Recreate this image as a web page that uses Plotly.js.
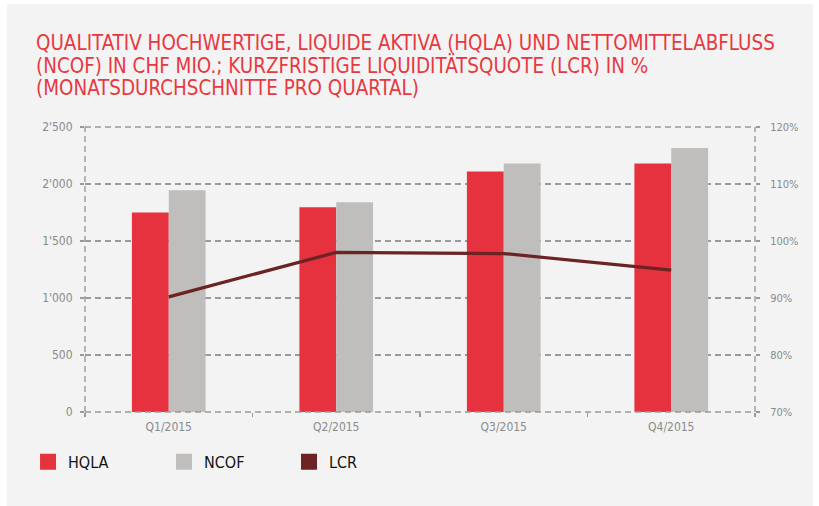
<!DOCTYPE html>
<html>
<head>
<meta charset="utf-8">
<script src="https://cdn.plot.ly/plotly-3.0.1.min.js"></script>
<style>
  html, body { margin: 0; padding: 0; background: #ffffff; }
  #chart { position: absolute; left: 7px; top: 4px; width: 806px; height: 502px; }
</style>
</head>
<body>
<div id="chart"></div>
<script>
const categories = ['Q1/2015', 'Q2/2015', 'Q3/2015', 'Q4/2015'];
const hqla = [1750, 1795, 2110, 2180];
const ncof = [1945, 1840, 2180, 2315];
const lcr = [90.2, 98.0, 97.8, 94.9];
const leftTickVals = [0, 500, 1000, 1500, 2000, 2500];
const leftTickText = ['0', '500', "1'000", "1'500", "2'000", "2'500"];
const rightTickVals = [70, 80, 90, 100, 110, 120];
const rightTickText = ['70%', '80%', '90%', '100%', '110%', '120%'];
const seriesNames = ['HQLA', 'NCOF', 'LCR'];
const titleLines = [
  'QUALITATIV HOCHWERTIGE, LIQUIDE AKTIVA (HQLA) UND NETTOMITTELABFLUSS',
  '(NCOF) IN CHF MIO.; KURZFRISTIGE LIQUIDITÄTSQUOTE (LCR) IN %',
  '(MONATSDURCHSCHNITTE PRO QUARTAL)'
];

const RED = '#e5323e', GREY = '#bfbebc', BROWN = '#6b2323';
const FONT = '"Liberation Sans Narrow", "DejaVu Sans Condensed", sans-serif';
const TICKCOL = '#8a8a8a';

const traces = [
  { type: 'bar', name: seriesNames[0], x: categories, y: hqla, marker: { color: RED }, showlegend: false, hoverinfo: 'skip' },
  { type: 'bar', name: seriesNames[1], x: categories, y: ncof, marker: { color: GREY }, showlegend: false, hoverinfo: 'skip' },
  { type: 'scatter', mode: 'lines', name: seriesNames[2], x: categories, y: lcr, yaxis: 'y2',
    line: { color: BROWN, width: 3.2 }, showlegend: false, hoverinfo: 'skip' },
  // legend swatches (square keys, as in the original)
  { type: 'scatter', mode: 'markers', name: seriesNames[0], x: categories, y: [null, null, null, null],
    marker: { symbol: 'square', size: 16, color: RED }, legend: 'legend' },
  { type: 'scatter', mode: 'markers', name: seriesNames[1], x: categories, y: [null, null, null, null],
    marker: { symbol: 'square', size: 16, color: GREY }, legend: 'legend2' },
  { type: 'scatter', mode: 'markers', name: seriesNames[2], x: categories, y: [null, null, null, null],
    marker: { symbol: 'square', size: 16, color: BROWN }, legend: 'legend3' }
];

const gridDash = '6px,4px';
const gridLine = { color: '#9a9a9a', width: 1.4, dash: gridDash };

function legendAt(xc) {
  return {
    orientation: 'h', xref: 'container', yref: 'container',
    x: xc, xanchor: 'left', y: 0.088, yanchor: 'middle',
    font: { family: FONT, size: 16, color: '#111111' },
    bgcolor: 'rgba(0,0,0,0)'
  };
}

const titleY = [1.2947, 1.2158, 1.1358];
const annotations = titleLines.map((t, i) => ({
  text: t, showarrow: false,
  xref: 'paper', yref: 'paper', x: -0.0758, y: titleY[i],
  xanchor: 'left', yanchor: 'middle',
  font: { family: FONT, size: 20.4, color: '#e8383f' }
}));

const layout = {
  width: 806, height: 502,
  paper_bgcolor: '#f3f3f3', plot_bgcolor: '#f3f3f3',
  margin: { l: 78, r: 58, t: 123, b: 94 },
  font: { family: FONT, color: TICKCOL, size: 12 },
  barmode: 'group', bargap: 0.56, bargroupgap: 0,
  xaxis: {
    type: 'category', range: [-0.5, 3.5],
    showgrid: false, zeroline: false, showline: false,
    ticks: 'outside', tickson: 'boundaries', ticklen: 4, tickwidth: 1.2, tickcolor: '#999999',
    ticklabelstandoff: 6,
    tickfont: { family: FONT, size: 12, color: TICKCOL }
  },
  yaxis: {
    range: [0, 2500], tickvals: leftTickVals, ticktext: leftTickText,
    showgrid: true, gridcolor: '#9a9a9a', gridwidth: 1.4, griddash: gridDash,
    zeroline: false, showline: false,
    ticks: 'outside', ticklen: 4, tickwidth: 1.2, tickcolor: '#999999',
    ticklabelstandoff: 5,
    tickfont: { family: FONT, size: 12, color: TICKCOL }
  },
  yaxis2: {
    overlaying: 'y', side: 'right', range: [70, 120],
    tickvals: rightTickVals, ticktext: rightTickText,
    showgrid: false, zeroline: false, showline: false,
    ticks: 'outside', ticklen: 4, tickwidth: 1.2, tickcolor: '#999999',
    ticklabelstandoff: 8,
    tickfont: { family: FONT, size: 11, color: TICKCOL }
  },
  shapes: [
    { type: 'line', xref: 'paper', yref: 'paper', x0: 0, x1: 0, y0: 0, y1: 1, line: gridLine },
    { type: 'line', xref: 'paper', yref: 'paper', x0: 1, x1: 1, y0: 0, y1: 1, line: gridLine },
    { type: 'line', xref: 'paper', yref: 'paper', x0: 0, x1: 1, y0: 0, y1: 0, line: gridLine },
    { type: 'line', xref: 'paper', yref: 'paper', x0: 0, x1: 1, y0: 1, y1: 1, line: gridLine }
  ],
  annotations: annotations,
  legend: legendAt(0.0261),
  legend2: legendAt(0.1948),
  legend3: legendAt(0.3499)
};

Plotly.newPlot('chart', traces, layout, { staticPlot: true, displayModeBar: false });
</script>
</body>
</html>
